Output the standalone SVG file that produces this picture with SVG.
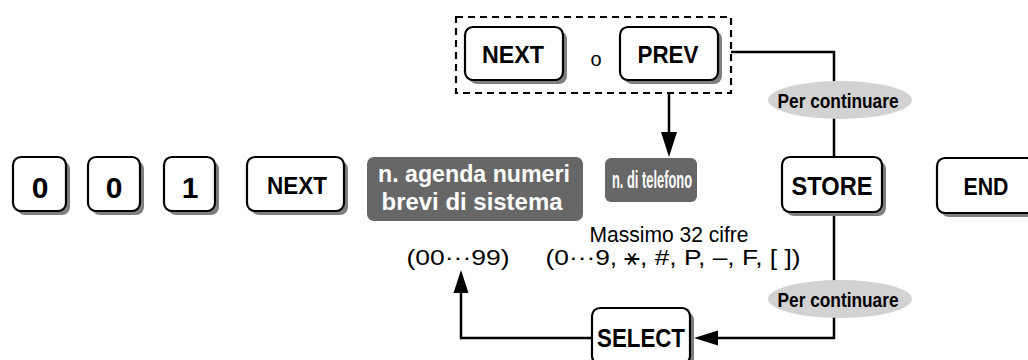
<svg xmlns="http://www.w3.org/2000/svg" width="1028" height="360" viewBox="0 0 1028 360">
<style>
.sh{fill:#808080}
.key{fill:#fff;stroke:#000;stroke-width:2.2}
.kt{font-family:"Liberation Sans",Arial,sans-serif;font-weight:bold;fill:#000;text-anchor:middle}
.gb{fill:#676767}
.gt{font-family:"Liberation Sans",Arial,sans-serif;font-weight:bold;fill:#fff;text-anchor:middle}
.el{fill:#d2d2d2}
.et{font-family:"Liberation Sans",Arial,sans-serif;font-weight:bold;font-size:21px;fill:#000;text-anchor:middle}
.tx{font-family:"Liberation Sans",Arial,"DejaVu Sans",sans-serif;fill:#000;text-anchor:middle}
.ln{fill:none;stroke:#000;stroke-width:2.5}
</style>
<g id="connectors">
<polyline class="ln" points="731,52 834,52 834,157"/>
<line class="ln" x1="669" y1="93" x2="669" y2="134"/>
<polygon points="661,132 677,132 669,157" fill="#000"/>
<polyline class="ln" points="834,212 834,338 716,338"/>
<polygon points="694,338 718,330.5 718,345.5" fill="#000"/>
<polyline class="ln" points="592,338 461,338 461,291"/>
<polygon points="461,270 453.5,293 468.5,293" fill="#000"/>
</g>
<g id="group-next-prev">
<rect x="456" y="17" width="275" height="76" fill="none" stroke="#000" stroke-width="2.2" stroke-dasharray="7 5"/>
<text class="tx" x="596" y="66" font-size="20">o</text>
</g>
<g id="key-0a"><rect class="sh" x="17" y="161" width="53" height="54" rx="8"/><rect class="key" x="13" y="157" width="53" height="54" rx="8"/><text class="kt" x="40" y="198" font-size="30">0</text></g>
<g id="key-0b"><rect class="sh" x="92" y="161" width="52" height="54" rx="8"/><rect class="key" x="88" y="157" width="52" height="54" rx="8"/><text class="kt" x="114" y="198" font-size="30">0</text></g>
<g id="key-1"><rect class="sh" x="168" y="161" width="51" height="54" rx="8"/><rect class="key" x="164" y="157" width="51" height="54" rx="8"/><text class="kt" x="190" y="198" font-size="30">1</text></g>
<g id="key-next"><rect class="sh" x="251" y="161" width="97" height="54" rx="8"/><rect class="key" x="247" y="157" width="97" height="54" rx="8"/><text class="kt" x="297" y="194" font-size="23" textLength="60" lengthAdjust="spacingAndGlyphs">NEXT</text></g>
<g id="box-agenda"><rect class="gb" x="367" y="157" width="216" height="64" rx="7"/><text class="gt" x="474" y="182" font-size="23" textLength="192" lengthAdjust="spacingAndGlyphs">n. agenda numeri</text><text class="gt" x="472" y="210" font-size="23" textLength="181" lengthAdjust="spacingAndGlyphs">brevi di sistema</text></g>
<g id="box-telefono"><rect class="gb" x="605" y="158" width="92" height="44" rx="6"/><text class="gt" x="652" y="188" font-size="23" textLength="80" lengthAdjust="spacingAndGlyphs">n. di telefono</text></g>
<g id="key-next-top"><rect class="sh" x="469" y="31" width="98" height="53" rx="8"/><rect class="key" x="465" y="27" width="98" height="53" rx="8"/><text class="kt" x="513" y="63" font-size="24" textLength="62" lengthAdjust="spacingAndGlyphs">NEXT</text></g>
<g id="key-prev"><rect class="sh" x="624" y="31" width="98" height="53" rx="8"/><rect class="key" x="620" y="27" width="98" height="53" rx="8"/><text class="kt" x="668" y="63" font-size="24" textLength="61" lengthAdjust="spacingAndGlyphs">PREV</text></g>
<g id="key-store"><rect class="sh" x="786" y="161" width="100" height="55" rx="8"/><rect class="key" x="782" y="157" width="100" height="55" rx="8"/><text class="kt" x="832" y="195" font-size="25" textLength="81" lengthAdjust="spacingAndGlyphs">STORE</text></g>
<g id="key-end"><rect class="sh" x="941" y="162" width="98" height="55" rx="8"/><rect class="key" x="937" y="158" width="98" height="55" rx="8"/><text class="kt" x="986" y="195" font-size="24" textLength="45" lengthAdjust="spacingAndGlyphs">END</text></g>
<g id="key-select"><rect class="sh" x="596" y="312" width="98" height="56" rx="8"/><rect class="key" x="592" y="308" width="98" height="56" rx="8"/><text class="kt" x="641" y="347" font-size="25" textLength="88" lengthAdjust="spacingAndGlyphs">SELECT</text></g>
<g id="label-continue-1"><ellipse class="el" cx="840" cy="100" rx="72" ry="19"/><text class="et" x="838" y="108" textLength="121" lengthAdjust="spacingAndGlyphs">Per continuare</text></g>
<g id="label-continue-2"><ellipse class="el" cx="840" cy="299" rx="72" ry="19"/><text class="et" x="838" y="307" textLength="121" lengthAdjust="spacingAndGlyphs">Per continuare</text></g>
<g id="texts">
<text class="tx" x="669" y="242" font-size="22" textLength="159" lengthAdjust="spacingAndGlyphs">Massimo 32 cifre</text>
<text class="tx" x="458" y="265" font-size="22" textLength="103" lengthAdjust="spacingAndGlyphs">(00···99)</text>
<text class="tx" x="673" y="265" font-size="22" textLength="255" lengthAdjust="spacingAndGlyphs">(0···9, ⚹, #, P, –, F, [ ])</text>
</g>
</svg>
